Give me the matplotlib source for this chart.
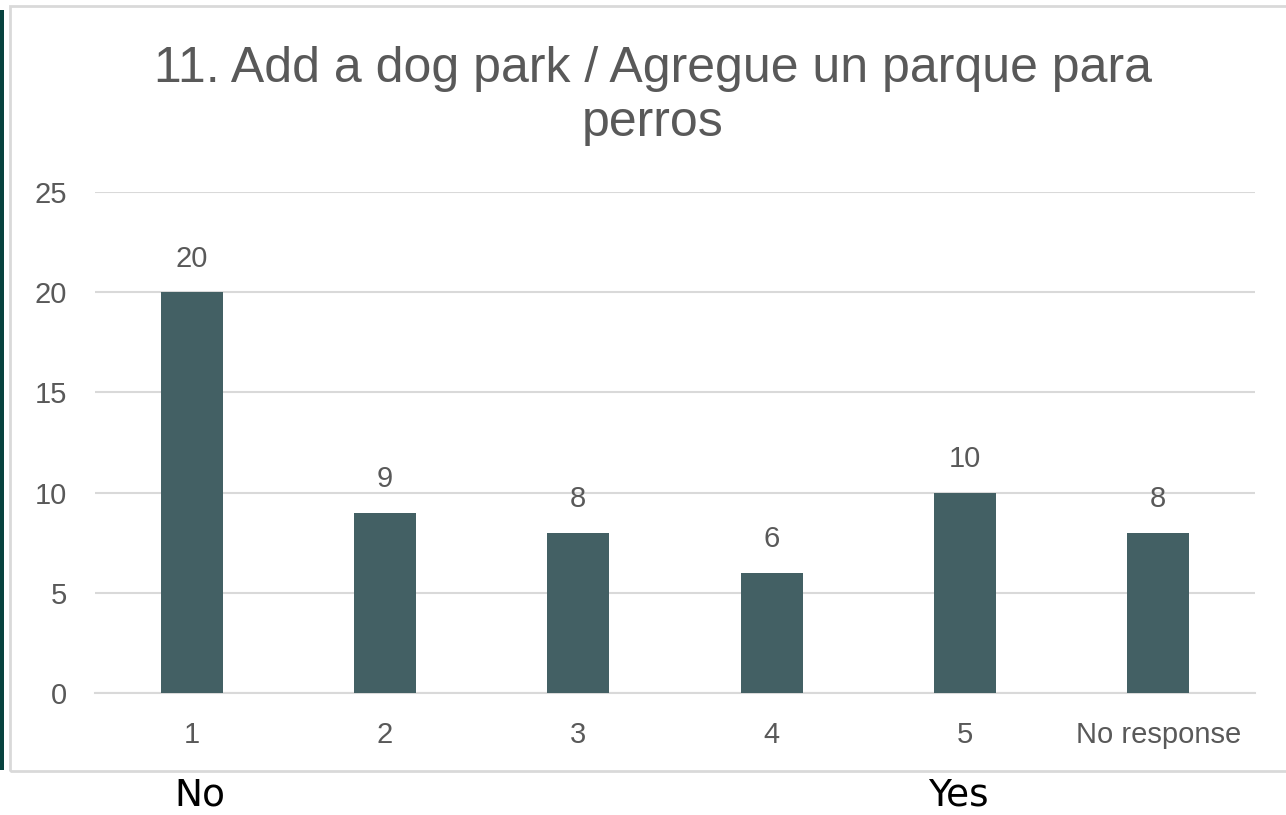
"""
Survey question 11: dog park responses
"""

import matplotlib.pyplot as plt
from matplotlib.patches import Rectangle

categories = ["1", "2", "3", "4", "5", "No response"]
counts = [20, 9, 8, 6, 10, 8]
y_ticks = [0, 5, 10, 15, 20, 25]
title = "11. Add a dog park / Agregue un parque para\nperros"

bar_colour = "#436064"
text_grey = "#595959"
grid_grey = "#d9d9d9"

fig = plt.figure(figsize=(12.86, 8.15), dpi=100)

# Frame of the pasted chart and the dark strip on the left
fig.patches.append(
    Rectangle((10 / 1286, 1 - 771 / 815), 1.0, (771 - 6) / 815,
              transform=fig.transFigure, fill=False, edgecolor=grid_grey, lw=2)
)
fig.patches.append(
    Rectangle((0, 1 - 770 / 815), 4 / 1286, 760 / 815,
              transform=fig.transFigure, color="#08433f", lw=0)
)

ax = fig.add_axes([95 / 1286, 1 - 693 / 815, 1160 / 1286, 501 / 815])

x = range(len(categories))
bars = ax.bar(x, counts, width=0.32, color=bar_colour, zorder=3)

for xi, v in zip(x, counts):
    ax.annotate(str(v), (xi, v), xytext=(0, 14), textcoords="offset points",
                ha="center", va="bottom", fontsize=21, color=text_grey,
                family="Liberation Sans")

ax.set_xlim(-0.5, len(categories) - 0.5)
ax.set_ylim(0, 25)
ax.set_yticks(y_ticks)
ax.set_xticks(list(x))
ax.set_xticklabels(categories)
ax.tick_params(length=0, labelsize=21, labelcolor=text_grey, pad=20)
ax.tick_params(axis="x", pad=20)
for lab in ax.get_xticklabels() + ax.get_yticklabels():
    lab.set_family("Liberation Sans")

ax.grid(axis="y", color=grid_grey, lw=1.5, zorder=0)
for s in ["top", "right", "left"]:
    ax.spines[s].set_visible(False)
ax.spines["bottom"].set_color(grid_grey)
ax.spines["bottom"].set_linewidth(1.5)

fig.text(653 / 1286, 1 - 96 / 815, title, ha="center", va="center", fontsize=36,
         color=text_grey, family="Liberation Sans", linespacing=1.2)

fig.text(200 / 1286, 1 - 795 / 815, "No", ha="center", va="center",
         fontsize=27, family="DejaVu Sans", color="black")
fig.text(958 / 1286, 1 - 795 / 815, "Yes", ha="center", va="center",
         fontsize=27, family="DejaVu Sans", color="black")

fig.savefig("out.png", dpi=100, facecolor="white")
